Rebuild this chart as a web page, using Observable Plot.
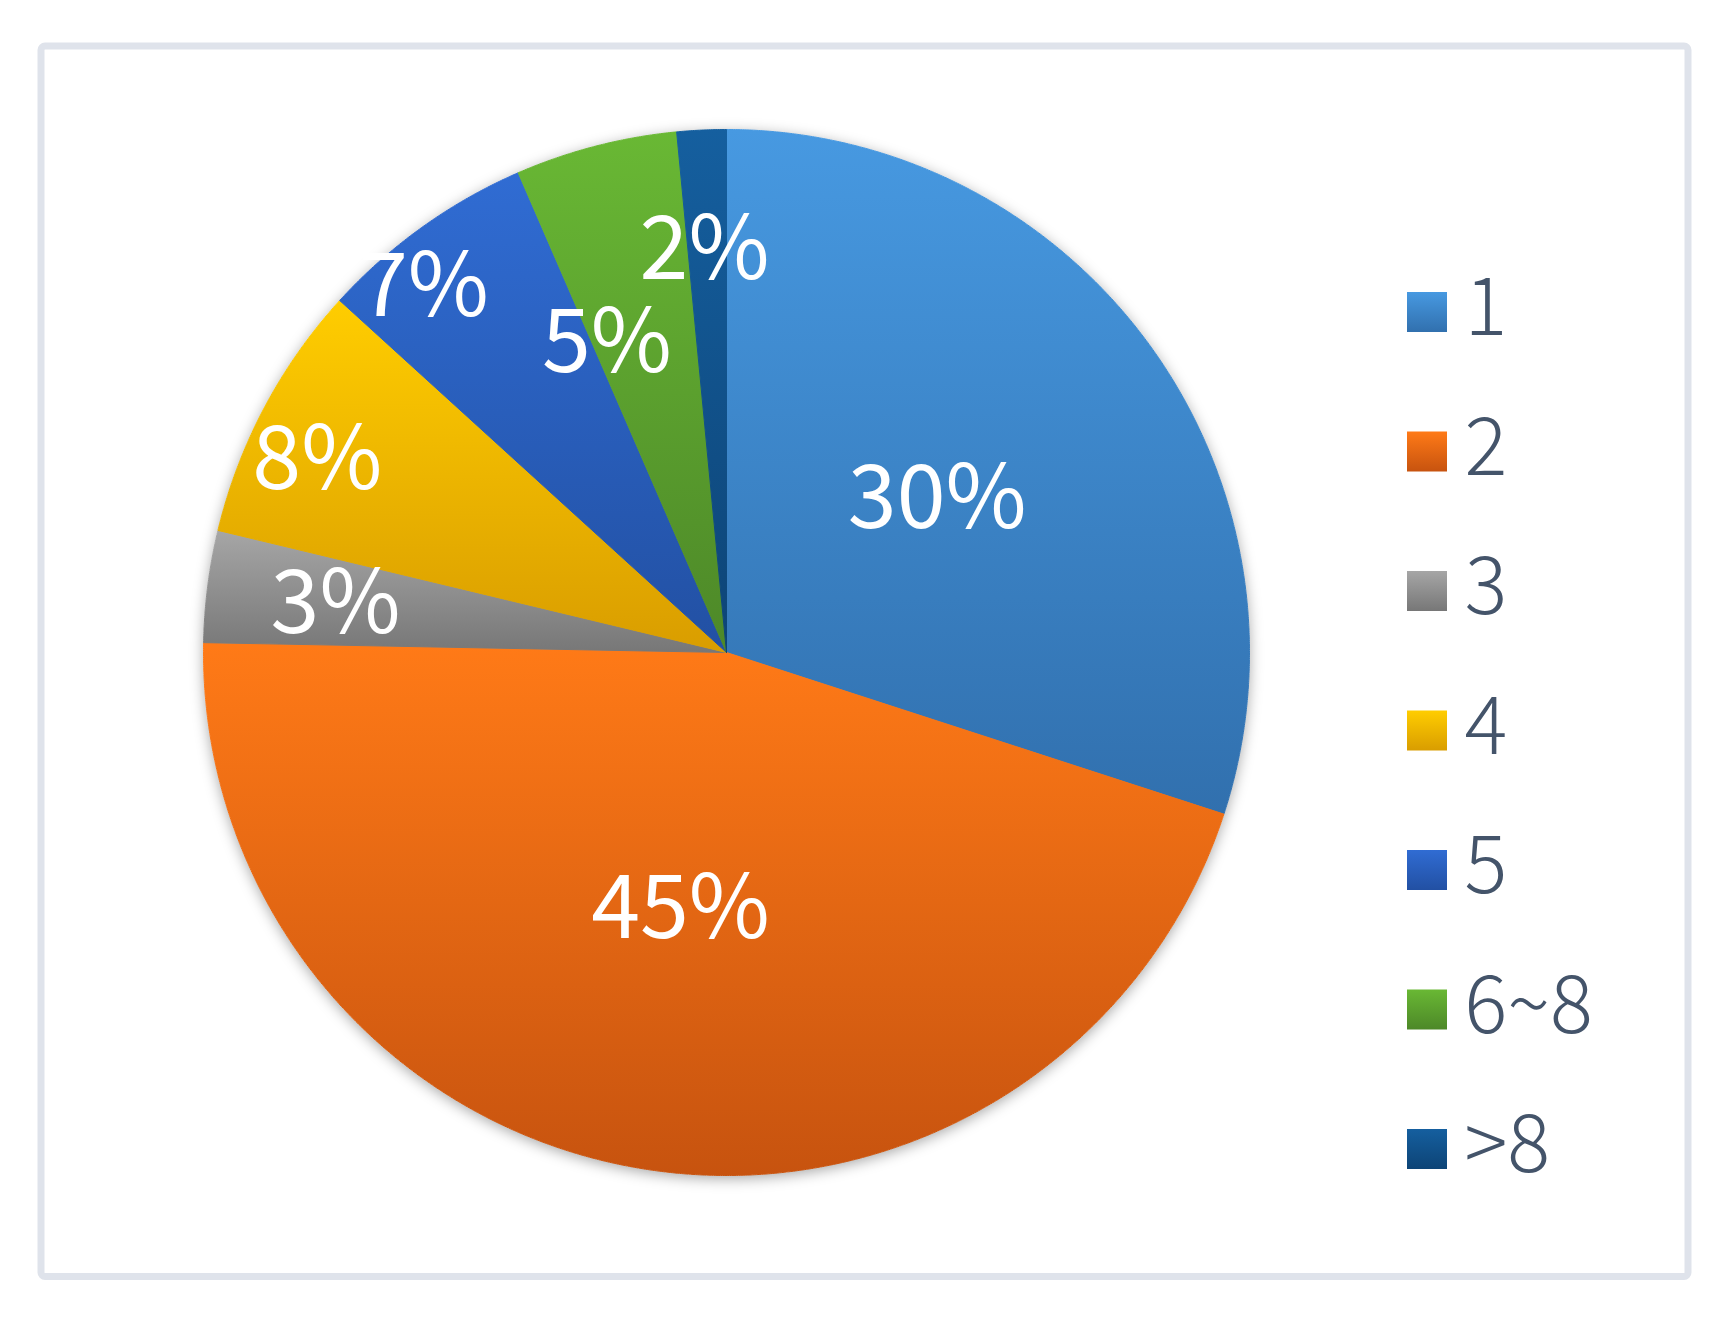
<!DOCTYPE html>
<html>
<head>
<meta charset="utf-8">
<script src="https://cdn.jsdelivr.net/npm/d3@7"></script>
<script src="https://cdn.jsdelivr.net/npm/@observablehq/plot@0.6"></script>
<style>
  html, body { margin: 0; padding: 0; background: #ffffff; }
  #chart svg { display: block; }
</style>
</head>
<body>
<div id="chart"></div>
<script>
// ---- data ----
const categories = ["1", "2", "3", "4", "5", "6~8", ">8"];
const values = [30.0, 45.3, 3.45, 8.0, 6.73, 5.0, 1.52];
const percentLabels = ["30%", "45%", "3%", "8%", "7%", "5%", "2%"];

// ---- styles ----
const gradientTop    = ["#4799E1", "#FF7A17", "#A6A6A6", "#FFCD00", "#306CD3", "#69B834", "#155F9F"];
const gradientBottom = ["#3170AE", "#C7530F", "#777777", "#D99D00", "#2250A3", "#4D8828", "#0D4476"];

// ---- layout ----
const W = 1734, H = 1324;
const cx = 726, cy = 652, R = 523;
const labelRadius = [0.498, 0.499, 0.753, 0.864, 0.906, 0.633, 0.769];
const labelAngleShift = [0, 0.6, -0.4, -2.8, -4.1, -6.7, -0.4];
const legendX = 1427, legendY0 = 312, legendStep = 139.5, legendSide = 40, legendTextX = 1464;
const fontFamily = "'Noto Sans CJK SC', 'Noto Sans', sans-serif";

const toXY = (a, r) => ({x: cx + r * Math.sin(a), y: cy - r * Math.cos(a)});
const step = Math.PI / 720;

const arcs = d3.pie().sort(null).value(d => d)(values);
const slices = arcs.map((a) => {
  const span = a.endAngle - a.startAngle;
  const n = Math.max(2, Math.ceil(span / step));
  const pts = [toXY(0, 0)];
  for (let k = 0; k <= n; k++) pts.push(toXY(a.startAngle + span * k / n, R));
  pts.push(toXY(0, 0));
  return pts;
});
const disk = d3.range(0, 1441).map(k => toXY(k * step, R));

const labels = arcs.map((a, i) => {
  const mid = (a.startAngle + a.endAngle) / 2 + labelAngleShift[i] * Math.PI / 180;
  return {...toXY(mid, labelRadius[i] * R), text: percentLabels[i]};
});

const legendRows = categories.map((c, i) => ({
  name: c,
  i,
  x1: legendX - legendSide / 2,
  x2: legendX + legendSide / 2,
  y: legendY0 + i * legendStep,
  y1: legendY0 + i * legendStep - legendSide / 2,
  y2: legendY0 + i * legendStep + legendSide / 2,
  tx: legendTextX
}));

const svg = Plot.plot({
  width: W,
  height: H,
  margin: 0,
  x: {domain: [0, W], range: [0, W], axis: null},
  y: {domain: [0, H], range: [0, H], axis: null},
  style: {fontFamily, background: "#ffffff"},
  marks: [
    Plot.line(disk, {x: "x", y: "y", fill: "#ffffff", stroke: "none"}),
    ...slices.map((pts, i) =>
      Plot.line(pts, {x: "x", y: "y", fill: `url(#grad${i})`, stroke: `url(#grad${i})`, strokeWidth: 1, curve: "linear"})
    ),
    Plot.text(labels, {x: "x", y: "y", text: "text", fill: "#ffffff", fontSize: 88, fontFamily, textAnchor: "middle"}),
    ...legendRows.map((r, i) =>
      Plot.rect([r], {x1: "x1", x2: "x2", y1: "y1", y2: "y2", fill: `url(#grad${i})`})
    ),
    Plot.text(legendRows, {x: "tx", y: "y", text: "name", fill: "#44546A", fontSize: 80, fontWeight: 300, fontFamily, textAnchor: "start", dy: -3}),
    Plot.frame({stroke: "#DFE3EB", strokeWidth: 7, insetLeft: 40.5, insetTop: 45.5, insetRight: 46.5, insetBottom: 48, rx: 4})
  ]
});

// gradient and shadow definitions
const ns = "http://www.w3.org/2000/svg";
const defs = document.createElementNS(ns, "defs");
categories.forEach((c, i) => {
  const g = document.createElementNS(ns, "linearGradient");
  g.setAttribute("id", `grad${i}`);
  g.setAttribute("x1", "0"); g.setAttribute("y1", "0");
  g.setAttribute("x2", "0"); g.setAttribute("y2", "1");
  [[0, gradientTop[i]], [1, gradientBottom[i]]].forEach(([o, col]) => {
    const s = document.createElementNS(ns, "stop");
    s.setAttribute("offset", o);
    s.setAttribute("stop-color", col);
    g.appendChild(s);
  });
  defs.appendChild(g);
});
const filter = document.createElementNS(ns, "filter");
filter.setAttribute("id", "pieShadow");
filter.setAttribute("x", "-10%"); filter.setAttribute("y", "-10%");
filter.setAttribute("width", "120%"); filter.setAttribute("height", "120%");
const ds = document.createElementNS(ns, "feDropShadow");
ds.setAttribute("dx", "0"); ds.setAttribute("dy", "3");
ds.setAttribute("stdDeviation", "7");
ds.setAttribute("flood-color", "#000000");
ds.setAttribute("flood-opacity", "0.35");
filter.appendChild(ds);
defs.appendChild(filter);
svg.insertBefore(defs, svg.firstChild);
const firstLine = svg.querySelector('g[aria-label="line"]');
if (firstLine) firstLine.setAttribute("filter", "url(#pieShadow)");

document.getElementById("chart").appendChild(svg);
</script>
</body>
</html>
